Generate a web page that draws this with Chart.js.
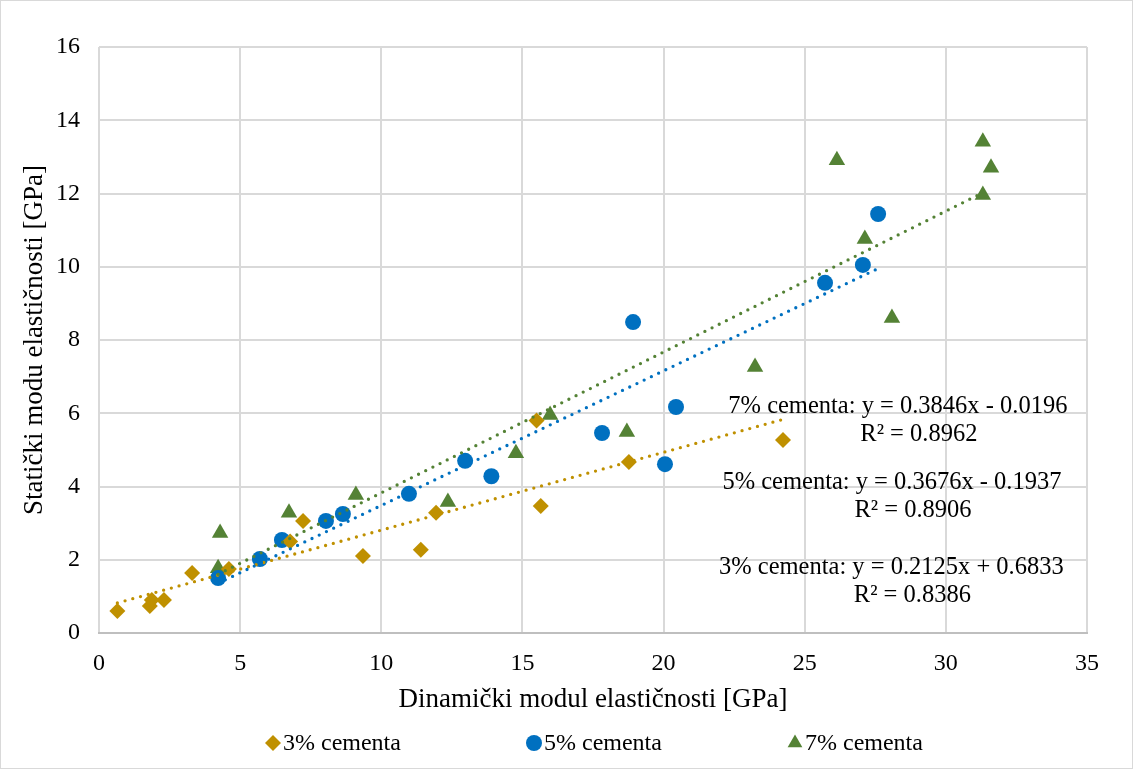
<!DOCTYPE html>
<html>
<head>
<meta charset="utf-8">
<script src="https://cdn.jsdelivr.net/npm/chart.js@4.4.1/dist/chart.umd.min.js"></script>
<style>
  html, body { margin: 0; padding: 0; background: #fff; }
  #wrap { width: 1133px; height: 769px; position: relative; }
</style>
</head>
<body>
<div id="wrap"><canvas id="c" width="1133" height="769"></canvas></div>
<script>
// ---- data ----
const cement3X = [0.65, 1.8, 1.87, 2.3, 3.3, 4.6, 6.77, 7.23, 9.35, 11.4, 11.94, 15.5, 15.65, 18.77, 24.23];
const cement3Y = [0.6, 0.74, 0.9, 0.9, 1.64, 1.75, 2.5, 3.06, 2.1, 2.27, 3.28, 5.8, 3.47, 4.67, 5.27];

const cement5X = [4.22, 5.7, 6.48, 8.04, 8.64, 10.98, 12.97, 13.9, 17.82, 18.92, 20.05, 20.44, 25.72, 27.06, 27.6];
const cement5Y = [1.5, 2.02, 2.54, 3.06, 3.25, 3.8, 4.7, 4.28, 5.46, 8.49, 4.61, 6.17, 9.56, 10.05, 11.44];

const cement7X = [4.22, 4.29, 6.73, 9.1, 12.36, 14.77, 15.98, 18.7, 23.24, 26.14, 27.13, 28.09, 31.31, 31.31, 31.6];
const cement7Y = [1.77, 2.73, 3.28, 3.77, 3.58, 4.91, 5.95, 5.49, 7.26, 12.91, 10.76, 8.6, 13.41, 11.96, 12.7];

const seriesNames = ['3% cementa', '5% cementa', '7% cementa'];
const trendSlopes = [0.2125, 0.3676, 0.3846];
const trendIntercepts = [0.6833, -0.1937, -0.0196];
const trendR2 = ['0.8386', '0.8906', '0.8962'];
const trendEquations = ['y = 0.2125x + 0.6833', 'y = 0.3676x - 0.1937', 'y = 0.3846x - 0.0196'];

const xTickValues = [0, 5, 10, 15, 20, 25, 30, 35];
const yTickValues = [0, 2, 4, 6, 8, 10, 12, 14, 16];
const xTitle = 'Dinamički modul elastičnosti [GPa]';
const yTitle = 'Statički modu elastičnosti [GPa]';

// ---- styles ----
const colors = ['#BF9000', '#0070C0', '#548235'];
const pointStyles = ['rectRot', 'circle', 'triangle'];
const pointRadii = [8, 8, 9.5];
const FONT = "'Liberation Serif', 'Times New Roman', serif";

const xs = [cement3X, cement5X, cement7X];
const ys = [cement3Y, cement5Y, cement7Y];

const scatterSets = xs.map((arr, i) => ({
  type: 'scatter',
  label: seriesNames[i],
  data: arr.map((x, k) => ({ x: x, y: ys[i][k] })),
  backgroundColor: colors[i],
  borderColor: colors[i],
  borderWidth: 0,
  pointStyle: pointStyles[i],
  pointRadius: pointRadii[i],
  pointHoverRadius: pointRadii[i],
  order: 5
}));

const trendSets = xs.map((arr, i) => {
  const x0 = Math.min(...arr), x1 = Math.max(...arr);
  return {
    type: 'line',
    label: 'trend ' + seriesNames[i],
    data: [x0, x1].map(x => ({ x: x, y: trendSlopes[i] * x + trendIntercepts[i] })),
    borderColor: colors[i],
    borderWidth: 3.3,
    borderDash: [0, 8],
    borderCapStyle: 'round',
    pointRadius: 0,
    fill: false,
    order: 3 - i
  };
});

// annotation positions (data coordinates of first-line text centre)
const annotPos = [
  { x: 28.07, y: 1.8 },
  { x: 28.09, y: 4.1 },
  { x: 28.3, y: 6.17 }
];

const extrasPlugin = {
  id: 'extras',
  afterDraw(chart) {
    const ctx = chart.ctx;
    const xs_ = chart.scales.x, ys_ = chart.scales.y;
    ctx.save();
    // trendline labels
    ctx.fillStyle = '#000';
    ctx.font = '24.5px ' + FONT;
    ctx.textBaseline = 'middle';
    ctx.textAlign = 'center';
    for (let i = 0; i < 3; i++) {
      const cx = xs_.getPixelForValue(annotPos[i].x);
      const cy = ys_.getPixelForValue(annotPos[i].y);
      ctx.fillText(seriesNames[i] + ': ' + trendEquations[i], cx, cy);
      ctx.fillText('R² = ' + trendR2[i], cx + 21, cy + 28);
    }
    // legend
    const legendY = 743;
    const legendX = [273, 534, 795];
    ctx.font = '24px ' + FONT;
    ctx.textAlign = 'left';
    for (let i = 0; i < 3; i++) {
      ctx.fillStyle = colors[i];
      ctx.strokeStyle = colors[i];
      Chart.helpers.drawPoint(ctx, {
        pointStyle: pointStyles[i],
        radius: i === 2 ? 8.5 : 8,
        borderWidth: 0,
        rotation: 0
      }, legendX[i], legendY);
      ctx.fillStyle = '#000';
      ctx.fillText(seriesNames[i], legendX[i] + 10, legendY + 1);
    }
    // outer border
    ctx.strokeStyle = '#D9D9D9';
    ctx.lineWidth = 1;
    ctx.strokeRect(0.5, 0.5, chart.width - 1, chart.height - 1);
    ctx.restore();
  }
};

new Chart(document.getElementById('c'), {
  type: 'scatter',
  data: { datasets: [...trendSets, ...scatterSets] },
  options: {
    responsive: false,
    animation: false,
    devicePixelRatio: 1,
    layout: { padding: { top: 47, right: 46, bottom: 49, left: 15 } },
    plugins: {
      legend: { display: false },
      tooltip: { enabled: false }
    },
    scales: {
      x: {
        type: 'linear',
        min: 0, max: 35,
        afterBuildTicks: s => { s.ticks = xTickValues.map(v => ({ value: v })); },
        afterFit: s => { s.height = 87; },
        grid: { color: '#D9D9D9', lineWidth: 2, drawTicks: false },
        border: { color: '#BFBFBF', width: 2 },
        ticks: { font: { family: FONT, size: 24 }, color: '#000', padding: 16, maxRotation: 0 },
        title: { display: true, text: xTitle, font: { family: FONT, size: 27 }, color: '#000', padding: { top: 4, bottom: 4 } }
      },
      y: {
        type: 'linear',
        min: 0, max: 16,
        afterBuildTicks: s => { s.ticks = yTickValues.map(v => ({ value: v })); },
        afterFit: s => { s.width = 84; },
        grid: { color: '#D9D9D9', lineWidth: 2, drawTicks: false },
        border: { display: false },
        ticks: { font: { family: FONT, size: 24 }, color: '#000', padding: 19 },
        title: { display: true, text: yTitle, font: { family: FONT, size: 27 }, color: '#000', padding: { top: 4, bottom: 4 } }
      }
    }
  },
  plugins: [extrasPlugin]
});
</script>
</body>
</html>
